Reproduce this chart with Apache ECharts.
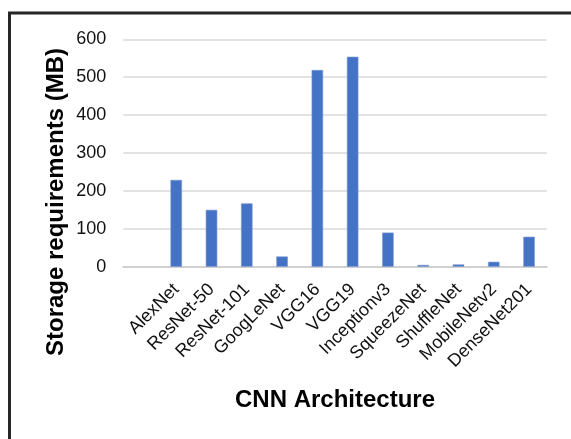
<!DOCTYPE html>
<html>
<head>
<meta charset="utf-8">
<script src="https://cdn.jsdelivr.net/npm/echarts@6/dist/echarts.min.js"></script>
<style>
  html, body { margin: 0; padding: 0; background: #fff; }
  #chart { width: 571px; height: 439px; }
</style>
</head>
<body>
<div id="chart"></div>
<script>
// first slot is left empty in the original chart
const architectures = ['', 'AlexNet', 'ResNet-50', 'ResNet-101', 'GoogLeNet', 'VGG16', 'VGG19',
  'Inceptionv3', 'SqueezeNet', 'ShuffleNet', 'MobileNetv2', 'DenseNet201'];
const storageMB = [null, 229, 150, 167, 27, 519, 554, 90, 4.6, 6, 13, 79];
const yTicks = [0, 100, 200, 300, 400, 500, 600];

const font = '"Liberation Sans", Arial, sans-serif';
const myChart = echarts.init(document.getElementById('chart'));

const option = {
  animation: false,
  backgroundColor: '#fff',
  grid: {
    left: 123.3, right: 24.3, top: 39.3, bottom: 172.3,
    containLabel: false,
    outerBoundsMode: 'none'
  },
  graphic: [
    {
      type: 'rect',
      shape: { x: 9.5, y: 13, width: 620, height: 500 },
      style: { fill: 'none', stroke: '#262626', lineWidth: 3 },
      silent: true
    },
    {
      // y axis title sits lower than the axis middle in the original
      type: 'text',
      x: 56,
      y: 202,
      rotation: Math.PI / 2,
      style: {
        text: 'Storage requirements (MB)',
        font: 'bold 24px ' + font,
        fill: '#000',
        align: 'center',
        verticalAlign: 'middle'
      },
      silent: true
    }
  ],
  xAxis: {
    type: 'category',
    data: architectures,
    name: 'CNN Architecture',
    nameLocation: 'middle',
    nameGap: 122,
    nameTextStyle: { fontFamily: font, fontSize: 24, fontWeight: 'bold', color: '#000' },
    axisLine: { lineStyle: { color: '#d0d0d0', width: 2 } },
    axisTick: { show: false },
    axisLabel: {
      interval: 0,
      rotate: 45,
      margin: 20,
      fontFamily: font,
      fontSize: 18,
      color: '#111'
    }
  },
  yAxis: {
    type: 'value',
    min: yTicks[0],
    max: yTicks[yTicks.length - 1],
    interval: 100,
    axisLine: { show: false },
    axisTick: { show: false },
    axisLabel: { margin: 17, fontFamily: font, fontSize: 18, color: '#111' },
    splitLine: { lineStyle: { color: '#d9d9d9', width: 1.5 } }
  },
  series: [
    {
      type: 'bar',
      data: storageMB,
      barWidth: 11.5,
      itemStyle: { color: '#4472C4', borderColor: '#7a97d4', borderWidth: 0.6 }
    }
  ]
};

myChart.setOption(option);
</script>
</body>
</html>
